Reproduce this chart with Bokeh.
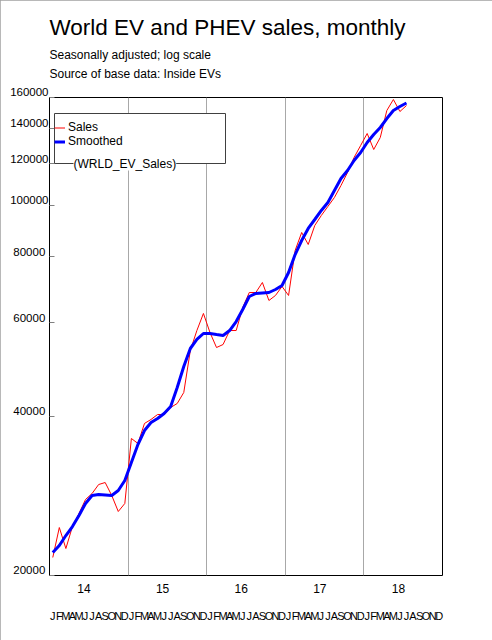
from bokeh.plotting import figure
from bokeh.models import (Range1d, FixedTicker, LinearAxis, Title, Legend, LegendItem,
                          Label, BoxAnnotation, CustomJSTickFormatter)
from bokeh.embed import file_html
from bokeh.resources import INLINE

FONT = "Liberation Sans"

# Monthly data, Jan 2014 .. Jul 2018
sales = [21630, 24640, 22490, 24750, 26190, 27840, 28570, 29710, 29970, 28330, 26420, 27360,
         36300, 35520, 38750, 39430, 40290, 40290, 41540, 42270, 44340, 53220, 58060, 62530,
         57560, 53920, 54630, 58060, 58060, 64180, 68500, 68500, 71550, 66160, 67620, 70320,
         67620, 82230, 88940, 84410, 91680, 95760, 99590, 103560, 109110, 115460, 123240, 129840,
         136800, 127600, 134440, 151190, 158600, 150530, 154500]
smoothed = [22100, 22790, 23800, 24750, 25970, 27360, 28330, 28450, 28390, 28330, 28950, 30240,
            32700, 35360, 37580, 38910, 39600, 40470, 41720, 45310, 49650, 53690, 55840, 57310,
            57310, 57060, 56820, 58060, 60380, 63620, 67320, 68210, 68360, 68500, 69400, 70620,
            74730, 80810, 85890, 90500, 94110, 97870, 101340, 106760, 112490, 116470, 121650, 125960,
            131550, 136210, 140420, 146020, 151190, 153840, 156200]
year_labels = ["14", "15", "16", "17", "18"]
month_letters = ["J", "F", "M", "A", "M", "J", "J", "A", "S", "O", "N", "D"]
y_ticks = [20000, 40000, 60000, 80000, 100000, 120000, 140000, 160000]

n_months = 12 * len(year_labels)
x = [i + 0.5 for i in range(len(sales))]

p = figure(width=492, height=640, title=None,
           x_range=Range1d(0, n_months), y_range=Range1d(20000, 160000),
           y_axis_type="log", output_backend="svg", toolbar_location=None,
           min_border_left=49, min_border_right=50, min_border_top=97, min_border_bottom=65)
p.background_fill_color = "white"
p.border_fill_color = "white"
p.outline_line_color = "black"
p.outline_line_alpha = 1.0
p.outline_line_width = 1
p.styles = {"outline": "1px solid #a0a0a0", "outline-offset": "-1px"}

# titles (added from the frame outward; the first one is only a spacer)
p.add_layout(Title(text=" ", text_font=FONT, text_font_size="12px", standoff=1), "above")
p.add_layout(Title(text="Source of base data: Inside EVs", text_font=FONT, text_font_size="12px",
                   text_font_style="normal", text_color="black", align="left", standoff=0), "above")
p.add_layout(Title(text="Seasonally adjusted; log scale", text_font=FONT, text_font_size="12px",
                   text_font_style="normal", text_color="black", align="left", standoff=5), "above")
p.add_layout(Title(text="World EV and PHEV sales, monthly", text_font=FONT, text_font_size="22.5px",
                   text_font_style="normal", text_color="black", align="left", standoff=8), "above")

# grid
p.ygrid.grid_line_color = None
p.xgrid.ticker = FixedTicker(ticks=[12 * k for k in range(1, len(year_labels))])
p.xgrid.grid_line_color = "#a8a8a8"
p.xgrid.grid_line_width = 1

# y axis (labels sit a little above their ticks and roughly centred, as in the original)
ya = p.yaxis[0]
ya.ticker = FixedTicker(ticks=y_ticks)
ya.formatter = CustomJSTickFormatter(
    code="const s = tick.toFixed(0); return (s.length < 6 ? s + '\\u2008' : s) + '\\n';")
ya.axis_line_color = None
ya.major_tick_in = 5
ya.major_tick_out = 0
ya.major_tick_line_color = "#808080"
ya.minor_tick_line_color = None
ya.major_label_standoff = 1
ya.major_label_text_line_height = 0.85
ya.major_label_text_font = FONT
ya.major_label_text_font_size = "11.5px"
ya.major_label_text_color = "black"

# x axis: years
xa = p.xaxis[0]
xa.ticker = FixedTicker(ticks=[12 * k + 5.27 for k in range(len(year_labels))])
xa.formatter = CustomJSTickFormatter(args=dict(labels=year_labels),
                                     code="return labels[Math.floor(tick / 12)];")
xa.axis_line_color = None
xa.major_tick_line_color = None
xa.minor_tick_line_color = None
xa.major_label_standoff = 2
xa.major_label_text_font = FONT
xa.major_label_text_font_size = "12px"
xa.major_label_text_color = "black"

# x axis: month letters
ma = LinearAxis(ticker=FixedTicker(ticks=[m + 0.5 for m in range(n_months)]),
                formatter=CustomJSTickFormatter(args=dict(letters=month_letters),
                                                code="return letters[Math.floor(tick) % 12];"))
ma.axis_line_color = None
ma.major_tick_line_color = None
ma.minor_tick_line_color = None
ma.major_label_standoff = 8
ma.major_label_text_font = FONT
ma.major_label_text_font_size = "11px"
ma.major_label_text_color = "black"
p.add_layout(ma, "below")

# data
r_sales = p.line(x, sales, line_color="#ff0000", line_width=1)
r_smooth = p.line(x, smoothed, line_color="#0000ff", line_width=3)
r_blank = p.line(x[:2], sales[:2], line_alpha=0)

# legend frame (drawn separately so the series label can sit on its lower edge)
p.add_layout(BoxAnnotation(left=5, right=176, top=462, bottom=412,
                           left_units="screen", right_units="screen",
                           top_units="screen", bottom_units="screen",
                           fill_color="white", fill_alpha=1,
                           line_color="#404040", line_width=1, line_alpha=1))

legend = Legend(items=[LegendItem(label="Sales", renderers=[r_sales]),
                       LegendItem(label="Smoothed", renderers=[r_smooth]),
                       LegendItem(label=" ", renderers=[r_blank])],
                location=(5, 414), orientation="vertical",
                padding=5, spacing=0, margin=0,
                glyph_width=11, glyph_height=13, label_height=13, label_width=145,
                label_standoff=3, label_text_font=FONT, label_text_font_size="12px",
                label_text_color="black",
                border_line_color=None, background_fill_alpha=0)
p.add_layout(legend, "center")

p.add_layout(Label(x=24, y=412, x_units="screen", y_units="screen", text="(WRLD_EV_Sales)",
                   text_font=FONT, text_font_size="12px", text_color="black",
                   text_baseline="middle", background_fill_color="white", level="overlay"))

open("out.html", "w").write(file_html(p, INLINE))
